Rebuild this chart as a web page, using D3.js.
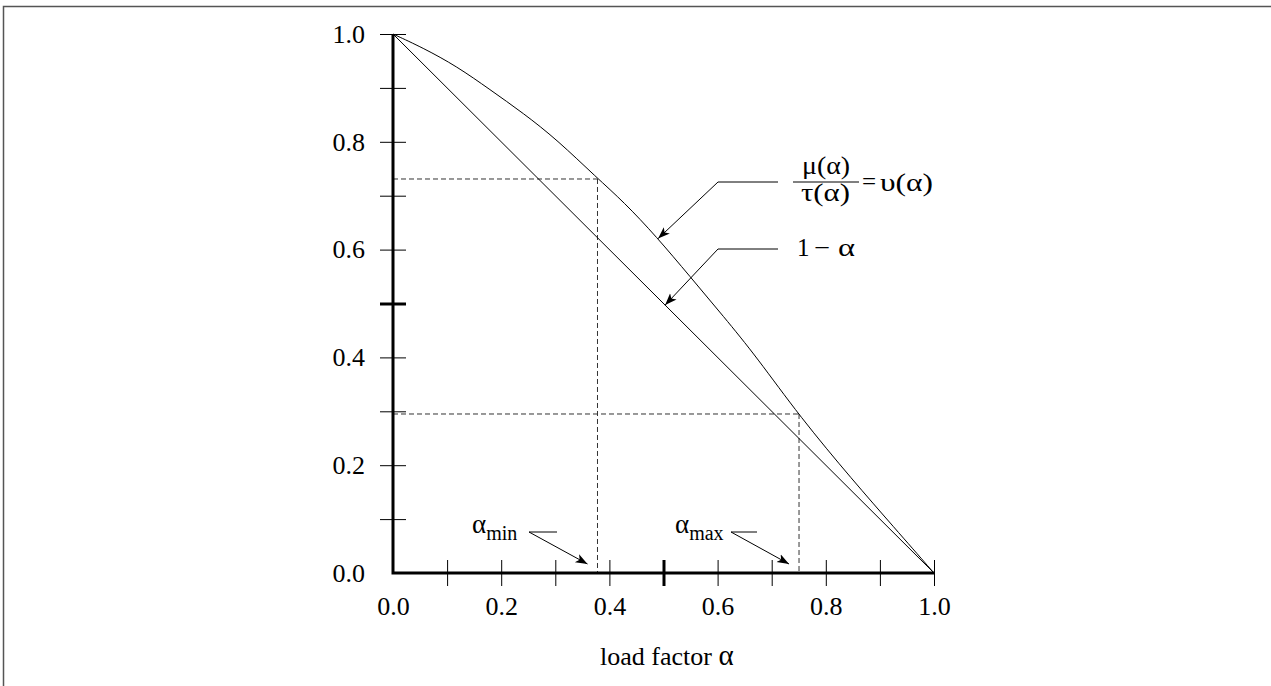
<!DOCTYPE html>
<html>
<head>
<meta charset="utf-8">
<script src="https://cdn.jsdelivr.net/npm/d3@7"></script>
<style>
  html, body { margin: 0; padding: 0; background: #fff; }
  svg { display: block; font-family: "Liberation Serif", "Times New Roman", serif; }
  .axis path { display: none; }
  .axis text { font-family: "Liberation Serif", "Times New Roman", serif; font-size: 26px; fill: #000; }
</style>
</head>
<body>
<svg id="svg" width="1271" height="686"></svg>
<script>
// load factor alpha (x) and the upper curve mu/tau = upsilon (y)
const alphaValues = [0, 0.056, 0.118, 0.179, 0.241, 0.303, 0.377, 0.426, 0.487, 0.549, 0.611, 0.672, 0.752, 0.85, 0.925, 1.0];
const upsilonValues = [1.0, 0.974, 0.940, 0.897, 0.853, 0.804, 0.733, 0.689, 0.624, 0.550, 0.476, 0.401, 0.290, 0.172, 0.086, 0.0];
// the straight line 1 - alpha
const lineAlpha = [0, 1];
const lineValues = [1, 0];

const tickValues = [0.1, 0.2, 0.3, 0.4, 0.5, 0.6, 0.7, 0.8, 0.9, 1.0];
const labelValues = [0, 0.2, 0.4, 0.6, 0.8, 1.0];

const alphaMin = 0.378;
const alphaMax = 0.7505;
const valueAtMin = 0.731;
const valueAtMax = 0.295;

const svg = d3.select('#svg');

const x = d3.scaleLinear().domain([0, 1]).range([393, 934]);
const y = d3.scaleLinear().domain([0, 1]).range([573, 34]);

const upsilonAt = function(a) {
  const i = Math.max(1, d3.bisectLeft(alphaValues, a));
  const t = (a - alphaValues[i - 1]) / (alphaValues[i] - alphaValues[i - 1]);
  return upsilonValues[i - 1] + t * (upsilonValues[i] - upsilonValues[i - 1]);
};

// frame
svg.append('path')
  .attr('d', 'M3.5,686 L3.5,6.5 L1271,6.5')
  .attr('fill', 'none')
  .attr('stroke', '#555')
  .attr('stroke-width', 1.5);

svg.append('defs').append('marker')
  .attr('id', 'arrow')
  .attr('viewBox', '0 0 10 10')
  .attr('refX', 10)
  .attr('refY', 5)
  .attr('markerWidth', 12)
  .attr('markerHeight', 12)
  .attr('markerUnits', 'userSpaceOnUse')
  .attr('orient', 'auto')
  .append('path')
  .attr('d', 'M0,1.3 L10,5 L0,8.7 L2.5,5 Z')
  .attr('fill', '#000');

// dashed guides
const guides = [
  [[0, valueAtMin], [alphaMin, valueAtMin]],
  [[alphaMin, valueAtMin], [alphaMin, 0]],
  [[0, valueAtMax], [alphaMax, valueAtMax]],
  [[alphaMax, valueAtMax], [alphaMax, 0]]
];
const lineBuilder = d3.line().x(d => x(d[0])).y(d => y(d[1]));
svg.append('g')
  .selectAll('path')
  .data(guides)
  .enter()
  .append('path')
  .attr('d', lineBuilder)
  .attr('fill', 'none')
  .attr('stroke', '#333')
  .attr('stroke-width', 1)
  .attr('stroke-dasharray', '5,3');

// curves
svg.append('path')
  .datum(d3.zip(alphaValues, upsilonValues))
  .attr('d', d3.line().x(d => x(d[0])).y(d => y(d[1])).curve(d3.curveBasis))
  .attr('fill', 'none')
  .attr('stroke', '#000')
  .attr('stroke-width', 1);

svg.append('path')
  .datum(d3.zip(lineAlpha, lineValues))
  .attr('d', lineBuilder)
  .attr('fill', 'none')
  .attr('stroke', '#000')
  .attr('stroke-width', 1);

// x axis: ticks crossing the axis line
const xTicks = svg.append('g')
  .classed('axis', true)
  .attr('transform', 'translate(0,' + y(0) + ')')
  .call(d3.axisBottom(x).tickValues(tickValues).tickFormat('').tickSizeInner(13).tickSizeOuter(0));
xTicks.selectAll('.tick line')
  .attr('y1', -13)
  .attr('stroke', '#000')
  .attr('stroke-width', d => (d === 0.5 ? 3 : 1));

svg.append('g')
  .classed('axis', true)
  .attr('transform', 'translate(0,' + y(0) + ')')
  .call(d3.axisBottom(x).tickValues(labelValues).tickFormat(d3.format('.1f')).tickSize(0).tickPadding(24));

// y axis
const yTicks = svg.append('g')
  .classed('axis', true)
  .attr('transform', 'translate(' + x(0) + ',0)')
  .call(d3.axisLeft(y).tickValues(tickValues).tickFormat('').tickSizeInner(13).tickSizeOuter(0));
yTicks.selectAll('.tick line')
  .attr('x1', 13)
  .attr('stroke', '#000')
  .attr('stroke-width', d => (d === 0.5 ? 3 : 1));

svg.append('g')
  .classed('axis', true)
  .attr('transform', 'translate(' + x(0) + ',0)')
  .call(d3.axisLeft(y).tickValues(labelValues).tickFormat(d3.format('.1f')).tickSize(0).tickPadding(28));

// axis lines
svg.append('path')
  .attr('d', 'M' + x(0) + ',' + y(1) + ' L' + x(0) + ',' + y(0) + ' L' + x(1) + ',' + y(0))
  .attr('fill', 'none')
  .attr('stroke', '#000')
  .attr('stroke-width', 3);

const xTitle = svg.append('text')
  .attr('x', 600)
  .attr('y', 665)
  .attr('font-size', 26);
xTitle.append('tspan').text('load factor ');
xTitle.append('tspan').attr('font-size', 29).text('α');

// annotations
const leaders = [
  { from: [778, 182], knee: [718, 182], to: [x(0.49), y(upsilonAt(0.49))] },
  { from: [778, 249], knee: [718, 249], to: [x(0.503), y(1 - 0.503)] },
  { from: [557, 532], knee: [529, 532], to: [x(alphaMin) - 10, 564] },
  { from: [757, 532], knee: [731, 532], to: [x(alphaMax) - 10, 564] }
];
svg.append('g')
  .selectAll('path')
  .data(leaders)
  .enter()
  .append('path')
  .attr('d', d => 'M' + d.from + ' L' + d.knee + ' L' + d.to)
  .attr('fill', 'none')
  .attr('stroke', '#000')
  .attr('stroke-width', 1)
  .attr('marker-end', 'url(#arrow)');

const ann = svg.append('g').attr('font-size', 25);
ann.append('text').attr('x', 802).attr('y', 174).attr('textLength', 48).attr('lengthAdjust', 'spacingAndGlyphs').text('μ(α)');
ann.append('line').attr('x1', 793).attr('x2', 859).attr('y1', 182).attr('y2', 182).attr('stroke', '#000').attr('stroke-width', 1);
ann.append('text').attr('x', 801).attr('y', 201).attr('textLength', 49).attr('lengthAdjust', 'spacingAndGlyphs').text('τ(α)');
ann.append('text').attr('x', 862).attr('y', 190).text('=');
ann.append('text').attr('x', 880).attr('y', 191).attr('textLength', 53).attr('lengthAdjust', 'spacingAndGlyphs').text('υ(α)');
ann.append('text').attr('x', 797).attr('y', 256).text('1');
ann.append('text').attr('x', 814).attr('y', 256).attr('textLength', 16).attr('lengthAdjust', 'spacingAndGlyphs').text('−');
ann.append('text').attr('x', 838).attr('y', 256).attr('textLength', 17).attr('lengthAdjust', 'spacingAndGlyphs').text('α');

const amin = ann.append('text').attr('x', 472).attr('y', 533);
amin.append('tspan').attr('font-size', 27).text('α');
amin.append('tspan').attr('font-size', 20).attr('dy', 7).text('min');
const amax = ann.append('text').attr('x', 675).attr('y', 533);
amax.append('tspan').attr('font-size', 27).text('α');
amax.append('tspan').attr('font-size', 20).attr('dy', 7).text('max');
</script>
</body>
</html>
